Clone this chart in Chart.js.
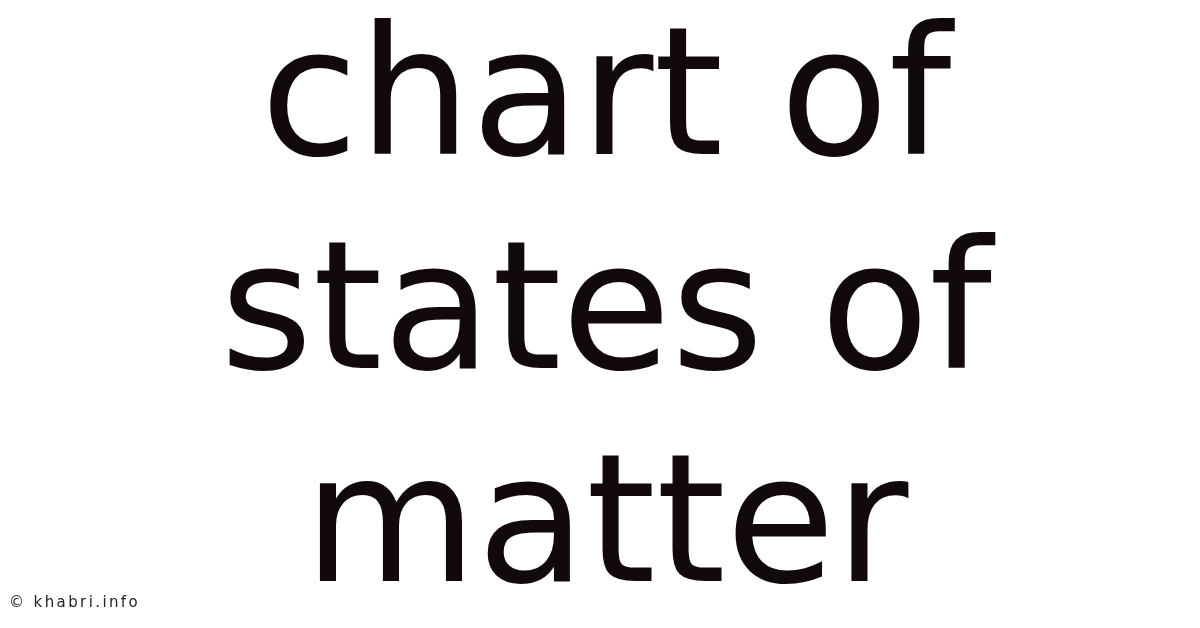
<!DOCTYPE html>
<html>
<head>
<meta charset="utf-8">
<script src="https://cdn.jsdelivr.net/npm/chart.js@4.4.1/dist/chart.umd.min.js"></script>
<style>
  html, body { margin: 0; padding: 0; background: #ffffff; }
  #wrap { width: 1200px; height: 628px; position: relative; }
</style>
</head>
<body>
<div id="wrap"><canvas id="c" width="1200" height="628"></canvas></div>
<script>
// ---- content ----
const titleLines = ['chart of', 'states of', 'matter'];
const watermark = '\u00A9 khabri.info';
const categories = [];
const seriesValues = [];

// ---- styles ----
const textColor = '#120a0a';
const titleFont = { family: 'DejaVu Sans', size: 178, weight: 'normal', lineHeight: 1.2 };

const watermarkPlugin = {
  id: 'watermark',
  afterDraw(chart) {
    const ctx = chart.ctx;
    ctx.save();
    ctx.font = '15px "DejaVu Sans"';
    if ('letterSpacing' in ctx) ctx.letterSpacing = '2.4px';
    ctx.fillStyle = '#222222';
    ctx.textAlign = 'left';
    ctx.textBaseline = 'alphabetic';
    ctx.fillText(watermark, 9, 607);
    ctx.restore();
  }
};

const bgPlugin = {
  id: 'bg',
  beforeDraw(chart) {
    const ctx = chart.ctx;
    ctx.save();
    ctx.fillStyle = '#ffffff';
    ctx.fillRect(0, 0, chart.width, chart.height);
    ctx.restore();
  }
};

new Chart(document.getElementById('c'), {
  type: 'bar',
  data: {
    labels: categories,
    datasets: [{ data: seriesValues }]
  },
  options: {
    responsive: false,
    animation: false,
    devicePixelRatio: 1,
    layout: { padding: { left: 12, right: 0, top: 0, bottom: 0 } },
    scales: {
      x: { display: false },
      y: { display: false }
    },
    plugins: {
      legend: { display: false },
      tooltip: { enabled: false },
      title: {
        display: true,
        text: titleLines,
        color: textColor,
        font: titleFont,
        align: 'center',
        padding: { top: 1, bottom: 0 },
        fullSize: false
      }
    }
  },
  plugins: [bgPlugin, watermarkPlugin]
});
</script>
</body>
</html>
